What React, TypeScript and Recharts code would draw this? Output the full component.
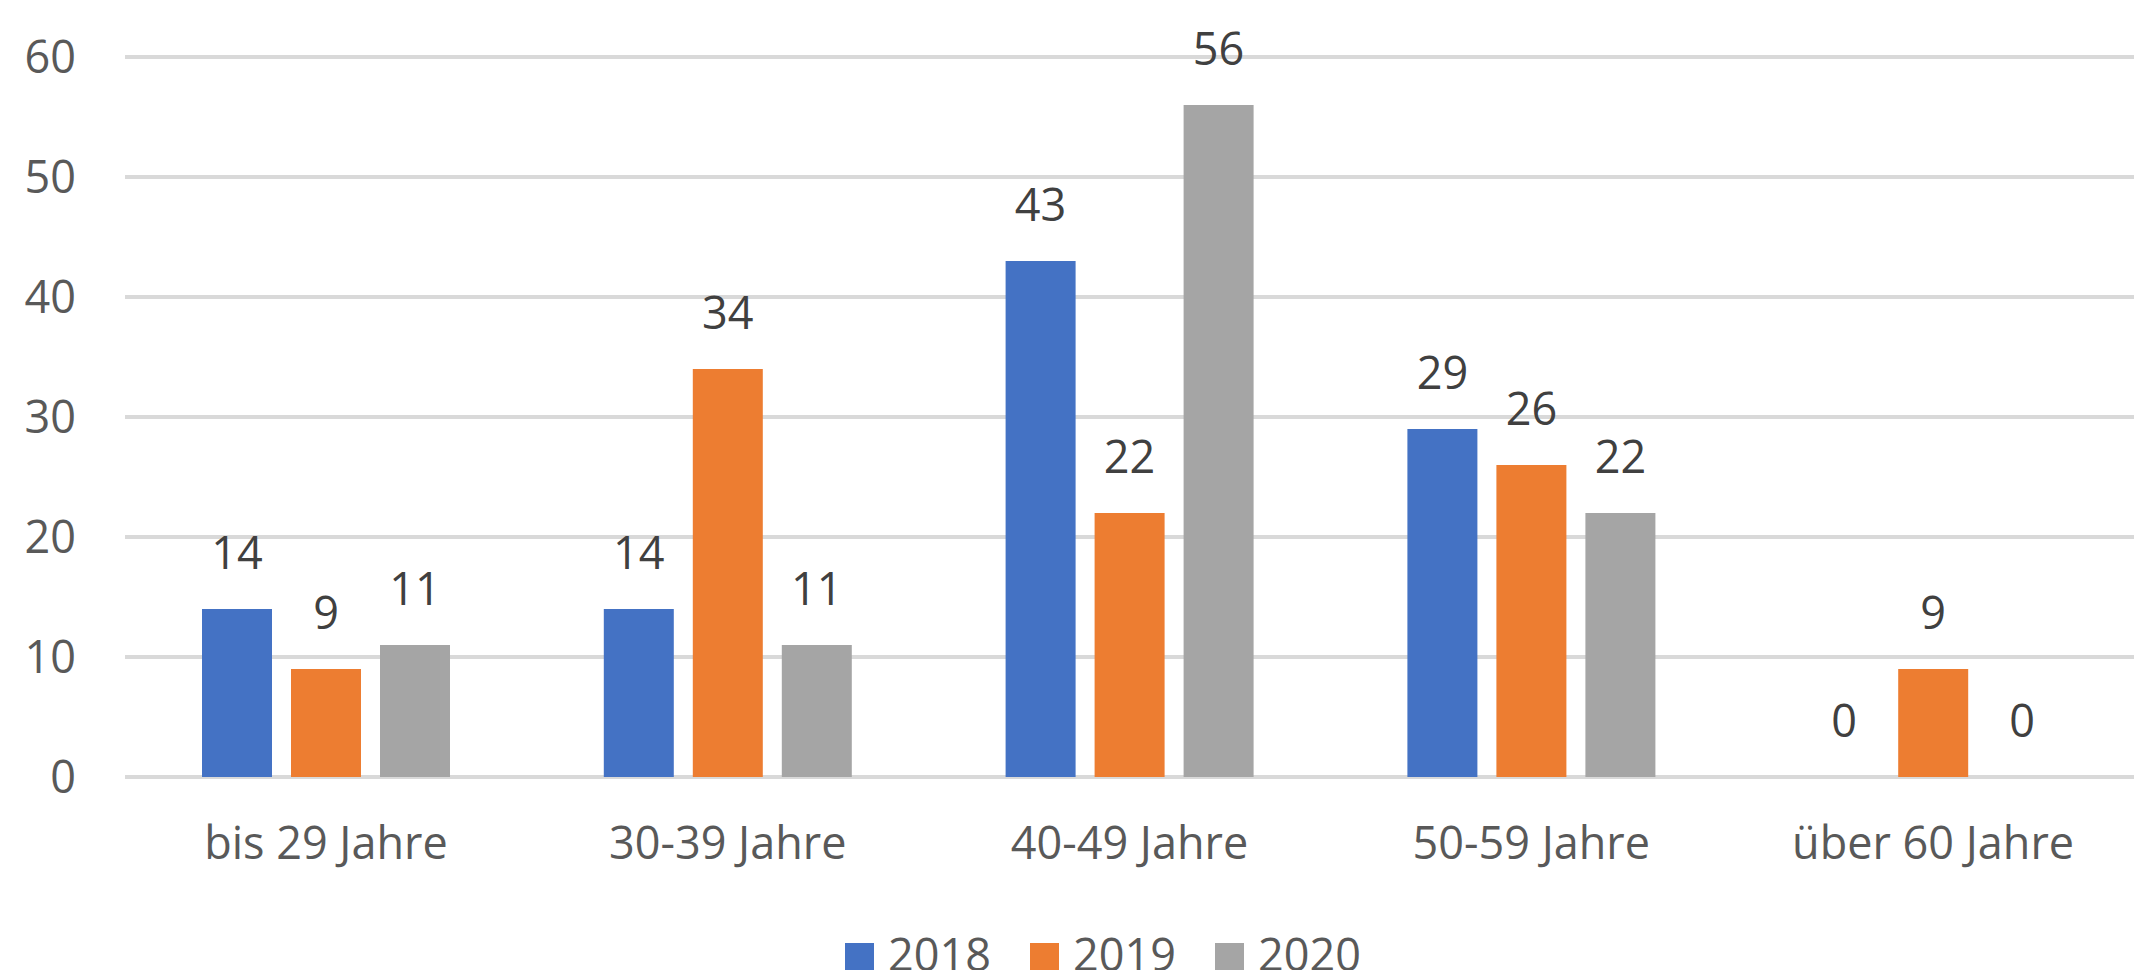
import React from "react";
import { BarChart, Bar, XAxis, YAxis, CartesianGrid, Legend, LabelList } from "recharts";

const categories = ["bis 29 Jahre", "30-39 Jahre", "40-49 Jahre", "50-59 Jahre", "über 60 Jahre"];
const values2018 = [14, 14, 43, 29, 0];
const values2019 = [9, 34, 22, 26, 9];
const values2020 = [11, 11, 56, 22, 0];
const yTicks = [0, 10, 20, 30, 40, 50, 60];

const seriesNames = ["2018", "2019", "2020"];
const seriesColors = ["#4472C4", "#ED7D31", "#A5A5A5"];

const data = categories.map((c, i) => ({
  name: c,
  "2018": values2018[i],
  "2019": values2019[i],
  "2020": values2020[i],
}));

const FONT = "'Open Sans', sans-serif";

const LegendContent = (props: any) => {
  const payload = props.payload || [];
  return (
    <div style={{ display: "flex", paddingLeft: 845, fontFamily: FONT, fontSize: 45, lineHeight: 1, color: "#595959" }}>
      {payload.map((p: any) => (
        <div key={p.value} style={{ display: "flex", alignItems: "flex-start", width: 185 }}>
          <div style={{ width: 29, height: 29, marginTop: 12, background: p.color, flex: "none" }} />
          <span style={{ marginLeft: 14, whiteSpace: "nowrap" }}>{p.value}</span>
        </div>
      ))}
    </div>
  );
};

const renderValueLabel = (props: any) => {
  const { x, y, width, value } = props;
  if (value === undefined || value === null) return null;
  return (
    <text
      x={Number(x) + Number(width) / 2}
      y={Number(y) - 40}
      textAnchor="middle"
      fill="#404040"
      fontSize={45}
      fontFamily={FONT}
    >
      {value}
    </text>
  );
};

export default function App() {
  return (
    <div style={{ width: 2139, height: 970, overflow: "hidden", background: "#fff" }}>
      <style>{`body{margin:0;overflow:hidden;}`}</style>
      <BarChart
        width={2139}
        height={970}
        data={data}
        margin={{ top: 57, right: 5, left: 0, bottom: 0 }}
        barCategoryGap={77}
        barGap={19}
      >
        <CartesianGrid vertical={false} stroke="#D9D9D9" strokeWidth={4} />
        <XAxis
          dataKey="name"
          axisLine={false}
          tickLine={false}
          tickSize={0}
          tickMargin={50}
          height={154}
          interval={0}
          tick={{ fill: "#595959", fontSize: 45, fontFamily: FONT }}
        />
        <YAxis
          domain={[0, 60]}
          ticks={yTicks}
          axisLine={false}
          tickLine={false}
          tickSize={0}
          tickMargin={49}
          width={125}
          tick={{ fill: "#595959", fontSize: 45, fontFamily: FONT }}
        />
        <Legend
          verticalAlign="bottom"
          content={<LegendContent />}
          wrapperStyle={{ left: 0, top: 931, bottom: "auto", width: 2139, height: 39 }}
        />
        {seriesNames.map((s, i) => (
          <Bar
            key={s}
            dataKey={s}
            name={s}
            fill={seriesColors[i]}
            isAnimationActive={false}
            minPointSize={(v: number) => (v === 0 ? 0.01 : 0)}
          >
            <LabelList dataKey={s} content={renderValueLabel} />
          </Bar>
        ))}
      </BarChart>
    </div>
  );
}
